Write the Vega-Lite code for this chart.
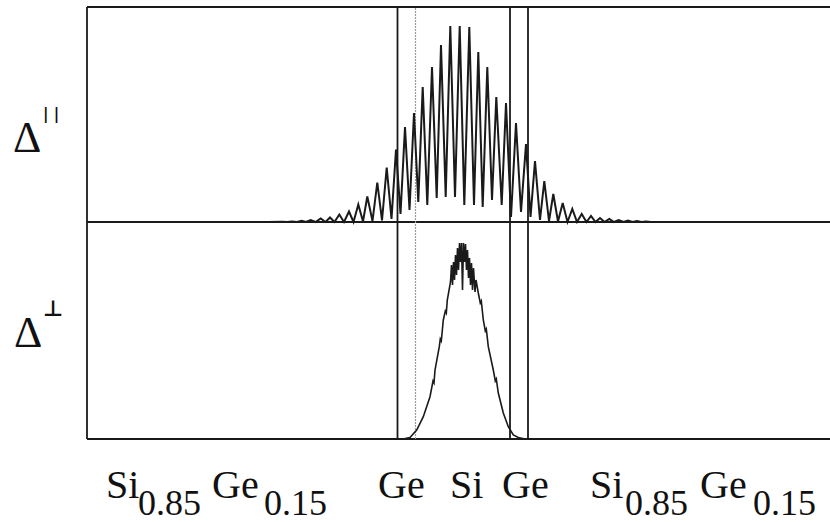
{
  "$schema": "https://vega.github.io/schema/vega-lite/v6.json",
  "width": 743,
  "height": 432,
  "autosize": "none",
  "padding": {"left": 87, "top": 7, "right": 0, "bottom": 83},
  "background": "white",
  "config": {"view": {"stroke": null}},
  "datasets": {
    "parallel": [
      {"x": 0, "y": 217}, {"x": 180, "y": 217},
      {"x": 195.5, "y": 217.3}, {"x": 200, "y": 217}, {"x": 205, "y": 217.6}, {"x": 210, "y": 217},
      {"x": 214.7, "y": 218.2}, {"x": 219, "y": 217}, {"x": 223.7, "y": 219}, {"x": 228.5, "y": 217},
      {"x": 233.7, "y": 220.5}, {"x": 238.5, "y": 217}, {"x": 243, "y": 221.5}, {"x": 247.5, "y": 217},
      {"x": 252.3, "y": 224.5}, {"x": 257, "y": 217}, {"x": 262, "y": 227.5}, {"x": 266.5, "y": 217},
      {"x": 271.3, "y": 234.5}, {"x": 276, "y": 217.5}, {"x": 280.3, "y": 242.5}, {"x": 285.5, "y": 218},
      {"x": 290.3, "y": 256.5}, {"x": 295, "y": 218.5}, {"x": 299.7, "y": 271.5}, {"x": 304.5, "y": 220},
      {"x": 309, "y": 289.5}, {"x": 313.5, "y": 225}, {"x": 318, "y": 312}, {"x": 322.5, "y": 229},
      {"x": 327, "y": 326}, {"x": 331.3, "y": 237}, {"x": 335.7, "y": 352}, {"x": 340.3, "y": 234},
      {"x": 345, "y": 372}, {"x": 349.7, "y": 241}, {"x": 354, "y": 394}, {"x": 358.7, "y": 242},
      {"x": 363.3, "y": 413}, {"x": 368, "y": 242}, {"x": 372.7, "y": 413}, {"x": 377.3, "y": 234},
      {"x": 382.3, "y": 412}, {"x": 387, "y": 234}, {"x": 391.3, "y": 387}, {"x": 395.7, "y": 232},
      {"x": 400.3, "y": 372}, {"x": 405, "y": 239}, {"x": 409.3, "y": 342}, {"x": 414.7, "y": 234},
      {"x": 419, "y": 336}, {"x": 424, "y": 222}, {"x": 429, "y": 316}, {"x": 434, "y": 227},
      {"x": 439, "y": 295}, {"x": 443.5, "y": 222}, {"x": 448, "y": 278}, {"x": 453, "y": 219},
      {"x": 457.3, "y": 258}, {"x": 462, "y": 218}, {"x": 466.3, "y": 245}, {"x": 471, "y": 217.5},
      {"x": 475.7, "y": 236}, {"x": 480.5, "y": 217}, {"x": 485.3, "y": 230}, {"x": 490, "y": 217},
      {"x": 494.7, "y": 225}, {"x": 499.5, "y": 217}, {"x": 504, "y": 223}, {"x": 508.5, "y": 217},
      {"x": 513, "y": 221}, {"x": 517.5, "y": 217}, {"x": 522.3, "y": 220}, {"x": 527, "y": 217},
      {"x": 531.7, "y": 219}, {"x": 536.5, "y": 217}, {"x": 541, "y": 218.5}, {"x": 545.5, "y": 217},
      {"x": 550, "y": 218}, {"x": 554.5, "y": 217}, {"x": 559, "y": 217.5}, {"x": 564, "y": 217},
      {"x": 743, "y": 217}
    ],
    "perp": [
      {"x": 0, "y": 0}, {"x": 308, "y": 0}, {"x": 318, "y": 0.5}, {"x": 323, "y": 1.5},
      {"x": 329.7, "y": 9}, {"x": 336.3, "y": 22.3}, {"x": 343, "y": 42.3}, {"x": 346, "y": 58},
      {"x": 347, "y": 56}, {"x": 348, "y": 69}, {"x": 352.3, "y": 92.3}, {"x": 353.3, "y": 100},
      {"x": 354.3, "y": 98}, {"x": 356.3, "y": 119}, {"x": 358.3, "y": 128}, {"x": 359.3, "y": 126},
      {"x": 360.3, "y": 139}, {"x": 363.5, "y": 157},
      {"x": 364.5, "y": 174}, {"x": 365.5, "y": 154}, {"x": 366.5, "y": 177}, {"x": 367.5, "y": 159},
      {"x": 368.5, "y": 184}, {"x": 369.5, "y": 164}, {"x": 370.5, "y": 191}, {"x": 371.5, "y": 169},
      {"x": 372.5, "y": 196}, {"x": 373.5, "y": 177}, {"x": 374.5, "y": 196}, {"x": 375.5, "y": 149},
      {"x": 376.5, "y": 196}, {"x": 377.5, "y": 177}, {"x": 378.5, "y": 195}, {"x": 379.5, "y": 169},
      {"x": 380.5, "y": 189}, {"x": 381.5, "y": 161}, {"x": 382.5, "y": 181}, {"x": 383.5, "y": 154},
      {"x": 384.5, "y": 176}, {"x": 385.5, "y": 149}, {"x": 386.5, "y": 171}, {"x": 388, "y": 147},
      {"x": 389, "y": 159}, {"x": 391.3, "y": 146}, {"x": 393.3, "y": 136}, {"x": 394.3, "y": 138},
      {"x": 396.3, "y": 119}, {"x": 398.3, "y": 108}, {"x": 399.3, "y": 110}, {"x": 401.3, "y": 92.3},
      {"x": 406.3, "y": 69}, {"x": 408.3, "y": 58}, {"x": 409.3, "y": 60}, {"x": 411.3, "y": 46},
      {"x": 416.3, "y": 26}, {"x": 421.3, "y": 12.3},
      {"x": 426.3, "y": 4}, {"x": 431.3, "y": 1.5}, {"x": 438, "y": 0}, {"x": 743, "y": 0}
    ],
    "frame": [
      {"x": 0, "x2": 743, "y": 432, "y2": 432},
      {"x": 0, "x2": 743, "y": 217, "y2": 217},
      {"x": 0, "x2": 743, "y": 0, "y2": 0},
      {"x": 0, "x2": 0, "y": 0, "y2": 432},
      {"x": 310.5, "x2": 310.5, "y": 0, "y2": 432},
      {"x": 423, "x2": 423, "y": 0, "y2": 432},
      {"x": 441, "x2": 441, "y": 0, "y2": 432}
    ],
    "faint": [
      {"x": 328.5, "x2": 328.5, "y": 0, "y2": 432}
    ],
    "labels": [
      {"x": 19, "y": -59, "t": "Si"},
      {"x": 125, "y": -59, "t": "Ge"},
      {"x": 291, "y": -59, "t": "Ge"},
      {"x": 363, "y": -59, "t": "Si"},
      {"x": 415, "y": -59, "t": "Ge"},
      {"x": 503, "y": -59, "t": "Si"},
      {"x": 613, "y": -59, "t": "Ge"}
    ],
    "subs": [
      {"x": 51, "y": -76, "t": "0.85"},
      {"x": 177, "y": -76, "t": "0.15"},
      {"x": 538, "y": -76, "t": "0.85"},
      {"x": 666, "y": -76, "t": "0.15"}
    ],
    "deltas": [
      {"x": -74, "y": 287, "t": "Δ"},
      {"x": -73, "y": 92, "t": "Δ"}
    ],
    "sup1": [
      {"x": -44, "y": 320, "t": "| |"}
    ],
    "sup2": [
      {"x": -44, "y": 123, "t": "⊥"}
    ]
  },
  "layer": [
    {
      "data": {"name": "frame"},
      "mark": {"type": "rule", "color": "#1a1a1a", "strokeWidth": 1.8},
      "encoding": {
        "x": {"field": "x", "type": "quantitative", "scale": {"domain": [0, 743], "nice": false, "zero": false}, "axis": null},
        "x2": {"field": "x2"},
        "y": {"field": "y", "type": "quantitative", "scale": {"domain": [0, 432], "nice": false, "zero": false}, "axis": null},
        "y2": {"field": "y2"}
      }
    },
    {
      "data": {"name": "faint"},
      "mark": {"type": "rule", "color": "#9a9a9a", "strokeWidth": 1.2, "strokeDash": [2, 1]},
      "encoding": {
        "x": {"field": "x", "type": "quantitative", "scale": {"domain": [0, 743], "nice": false, "zero": false}, "axis": null},
        "x2": {"field": "x2"},
        "y": {"field": "y", "type": "quantitative", "scale": {"domain": [0, 432], "nice": false, "zero": false}, "axis": null},
        "y2": {"field": "y2"}
      }
    },
    {
      "data": {"name": "parallel"},
      "mark": {"type": "line", "color": "#1a1a1a", "strokeWidth": 2, "strokeJoin": "miter"},
      "encoding": {
        "x": {"field": "x", "type": "quantitative", "scale": {"domain": [0, 743], "nice": false, "zero": false}, "axis": null},
        "y": {"field": "y", "type": "quantitative", "scale": {"domain": [0, 432], "nice": false, "zero": false}, "axis": null}
      }
    },
    {
      "data": {"name": "perp"},
      "mark": {"type": "line", "color": "#1a1a1a", "strokeWidth": 1.6},
      "encoding": {
        "x": {"field": "x", "type": "quantitative", "scale": {"domain": [0, 743], "nice": false, "zero": false}, "axis": null},
        "y": {"field": "y", "type": "quantitative", "scale": {"domain": [0, 432], "nice": false, "zero": false}, "axis": null}
      }
    },
    {
      "data": {"name": "labels"},
      "mark": {"type": "text", "font": "Liberation Serif", "fontSize": 40, "align": "left", "baseline": "alphabetic", "color": "#111"},
      "encoding": {
        "x": {"field": "x", "type": "quantitative", "scale": {"domain": [0, 743], "nice": false, "zero": false}, "axis": null},
        "y": {"field": "y", "type": "quantitative", "scale": {"domain": [0, 432], "nice": false, "zero": false}, "axis": null},
        "text": {"field": "t"}
      }
    },
    {
      "data": {"name": "subs"},
      "mark": {"type": "text", "font": "Liberation Serif", "fontSize": 36, "align": "left", "baseline": "alphabetic", "color": "#111"},
      "encoding": {
        "x": {"field": "x", "type": "quantitative", "scale": {"domain": [0, 743], "nice": false, "zero": false}, "axis": null},
        "y": {"field": "y", "type": "quantitative", "scale": {"domain": [0, 432], "nice": false, "zero": false}, "axis": null},
        "text": {"field": "t"}
      }
    },
    {
      "data": {"name": "deltas"},
      "mark": {"type": "text", "font": "Liberation Serif", "fontSize": 44, "align": "left", "baseline": "alphabetic", "color": "#111"},
      "encoding": {
        "x": {"field": "x", "type": "quantitative", "scale": {"domain": [0, 743], "nice": false, "zero": false}, "axis": null},
        "y": {"field": "y", "type": "quantitative", "scale": {"domain": [0, 432], "nice": false, "zero": false}, "axis": null},
        "text": {"field": "t"}
      }
    },
    {
      "data": {"name": "sup1"},
      "mark": {"type": "text", "font": "DejaVu Sans", "fontSize": 15, "align": "left", "baseline": "alphabetic", "color": "#111", "fontWeight": "bold"},
      "encoding": {
        "x": {"field": "x", "type": "quantitative", "scale": {"domain": [0, 743], "nice": false, "zero": false}, "axis": null},
        "y": {"field": "y", "type": "quantitative", "scale": {"domain": [0, 432], "nice": false, "zero": false}, "axis": null},
        "text": {"field": "t"}
      }
    },
    {
      "data": {"name": "sup2"},
      "mark": {"type": "text", "font": "DejaVu Sans", "fontSize": 22, "align": "left", "baseline": "alphabetic", "color": "#111", "fontWeight": "bold"},
      "encoding": {
        "x": {"field": "x", "type": "quantitative", "scale": {"domain": [0, 743], "nice": false, "zero": false}, "axis": null},
        "y": {"field": "y", "type": "quantitative", "scale": {"domain": [0, 432], "nice": false, "zero": false}, "axis": null},
        "text": {"field": "t"}
      }
    }
  ]
}
